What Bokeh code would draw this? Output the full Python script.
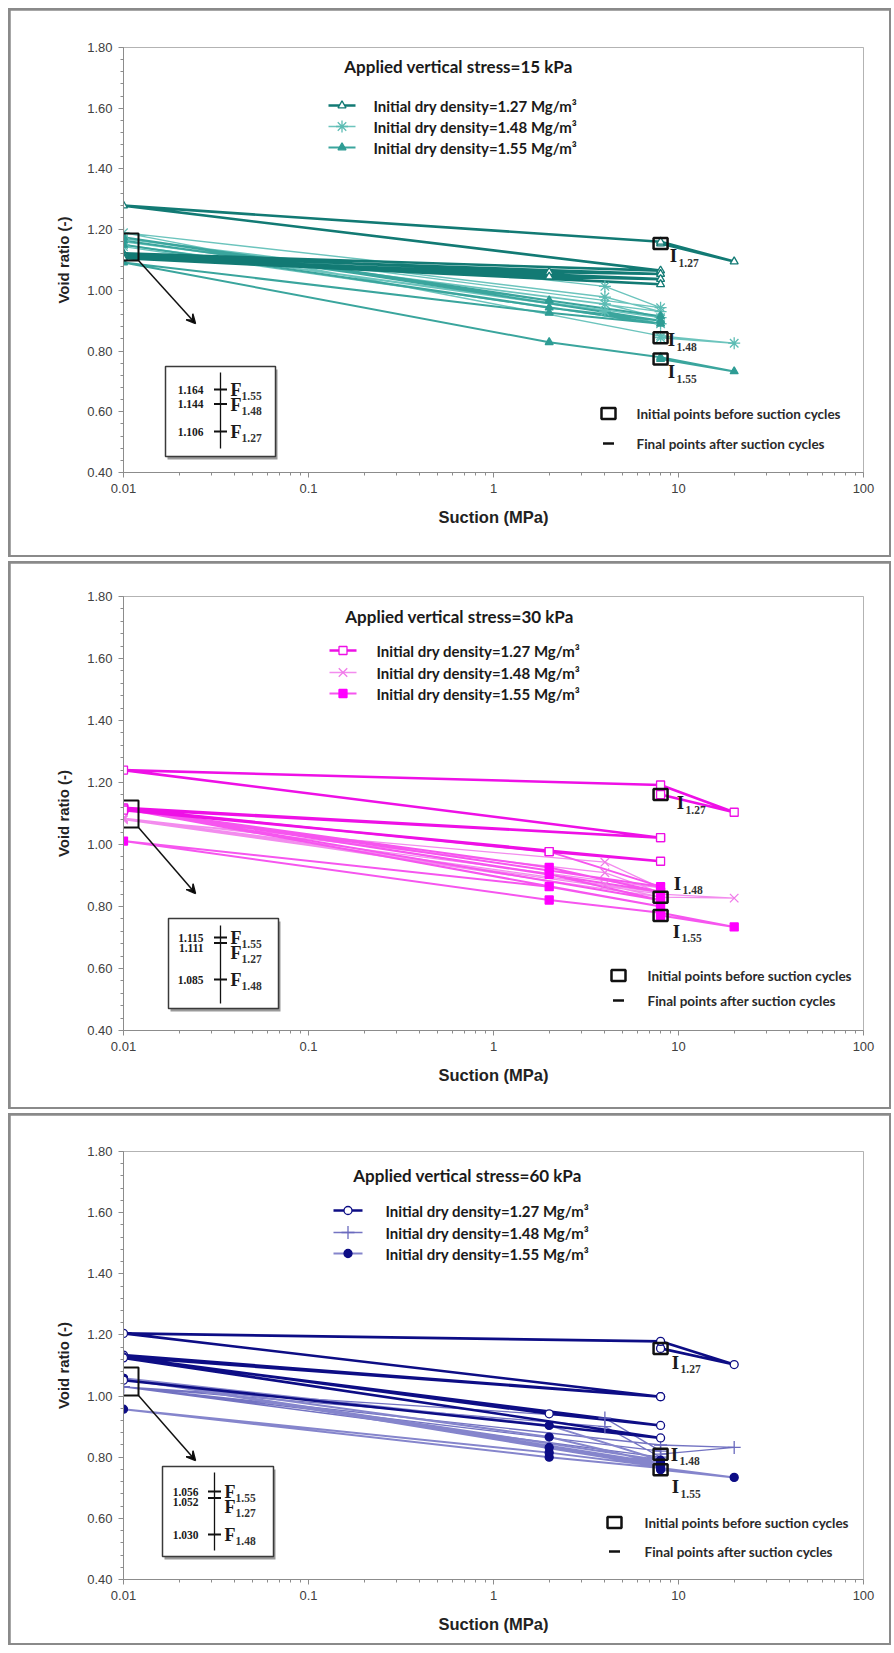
import math
from bokeh.plotting import figure
from bokeh.layouts import column
from bokeh.models import FixedTicker, NumeralTickFormatter, Arrow, VeeHead, Range1d
from bokeh.core.properties import value
from bokeh.embed import file_html
from bokeh.resources import INLINE

# ---------------- data ----------------
X_TICKS = [0.01, 0.1, 1, 10, 100]
X_TICK_LABELS = ["0.01", "0.1", "1", "10", "100"]
Y_TICKS = [0.40, 0.60, 0.80, 1.00, 1.20, 1.40, 1.60, 1.80]
STRESSES = ["15", "30", "60"]
DENSITIES = ["1.27", "1.48", "1.55"]

# 15 kPa
S15_D127_SUCTION = [8, 20, 8, 0.01, 8, 0.01, 2, 8, 0.01, 2, 8, 0.01, 8, 0.01]
S15_D127_VOID = [1.154, 1.095, 1.160, 1.279, 1.065, 1.122, 1.060, 1.054, 1.115, 1.045, 1.037, 1.110, 1.020, 1.106]
S15_D148_SUCTION = [8, 20, 8, 0.01, 4, 8, 0.01, 4, 8, 0.01, 4, 8, 0.01, 4, 8, 0.01]
S15_D148_VOID = [0.844, 0.826, 0.850, 1.190, 1.013, 0.943, 1.170, 0.978, 0.930, 1.160, 0.955, 0.910, 1.150, 0.931, 0.890, 1.144]
S15_D155_SUCTION = [8, 20, 8, 2, 0.01, 2, 8, 0.01, 2, 8, 0.01, 2, 8, 0.01]
S15_D155_VOID = [0.774, 0.733, 0.780, 0.829, 1.092, 0.926, 0.890, 1.150, 0.943, 0.900, 1.175, 0.967, 0.915, 1.164]

# 30 kPa
S30_D127_SUCTION = [8, 20, 8, 0.01, 8, 0.01, 8, 0.01, 2, 8, 0.01]
S30_D127_VOID = [1.161, 1.104, 1.192, 1.240, 1.022, 1.118, 1.022, 1.115, 0.977, 0.946, 1.111]
S30_D148_SUCTION = [8, 20, 8, 0.01, 4, 8, 0.01, 4, 8, 0.01, 4, 8, 0.01]
S30_D148_VOID = [0.830, 0.827, 0.840, 1.080, 0.943, 0.860, 1.085, 0.909, 0.845, 1.085, 0.870, 0.830, 1.085]
S30_D155_SUCTION = [8, 20, 8, 2, 0.01, 2, 8, 0.01, 2, 8, 0.01, 2, 8, 0.01, 2, 8, 0.01]
S30_D155_VOID = [0.771, 0.734, 0.780, 0.821, 1.011, 0.864, 0.800, 1.115, 0.904, 0.820, 1.115, 0.926, 0.847, 1.115, 0.977, 0.864, 1.115]

# 60 kPa
S60_D127_SUCTION = [8, 20, 8, 0.01, 8, 0.01, 8, 0.01, 2, 8, 0.01, 8, 0.01]
S60_D127_VOID = [1.156, 1.103, 1.179, 1.205, 0.998, 1.134, 0.998, 1.128, 0.942, 0.904, 1.125, 0.863, 1.052]
S60_D148_SUCTION = [8, 20, 8, 0.01, 4, 8, 0.01, 4, 8, 0.01]
S60_D148_VOID = [0.810, 0.832, 0.840, 1.030, 0.928, 0.820, 1.030, 0.900, 0.800, 1.030]
S60_D155_SUCTION = [8, 20, 8, 2, 0.01, 2, 8, 0.01, 2, 8, 0.01, 2, 8, 0.01, 2, 8, 0.01]
S60_D155_VOID = [0.759, 0.734, 0.765, 0.800, 0.957, 0.815, 0.770, 1.058, 0.832, 0.775, 1.058, 0.866, 0.780, 1.058, 0.904, 0.790, 1.056]

# final void ratios after suction cycles (order 1.27, 1.48, 1.55)
FINAL_15 = [1.106, 1.144, 1.164]
FINAL_30 = [1.111, 1.085, 1.115]
FINAL_60 = [1.052, 1.030, 1.056]

SERIES = {
    "15": [(S15_D127_SUCTION, S15_D127_VOID), (S15_D148_SUCTION, S15_D148_VOID), (S15_D155_SUCTION, S15_D155_VOID)],
    "30": [(S30_D127_SUCTION, S30_D127_VOID), (S30_D148_SUCTION, S30_D148_VOID), (S30_D155_SUCTION, S30_D155_VOID)],
    "60": [(S60_D127_SUCTION, S60_D127_VOID), (S60_D148_SUCTION, S60_D148_VOID), (S60_D155_SUCTION, S60_D155_VOID)],
}
FINALS = {"15": FINAL_15, "30": FINAL_30, "60": FINAL_60}

# ---------------- styles / layout ----------------
STYLE = {
    "15": dict(line=["#127a74", "#6cc4bd", "#3aa59d"], mark=["#127a74", "#5cbcb4", "#2e9c94"],
               marker=["triangle", "asterisk", "triangle"], hollow=[True, False, False],
               lw=[2.6, 1.4, 2.0], ms=[8, 12, 8]),
    "30": dict(line=["#ee10e6", "#f38cee", "#f655ef"], mark=["#ee10e6", "#f07ae9", "#ff00ff"],
               marker=["square", "x", "square"], hollow=[True, False, False],
               lw=[2.6, 1.3, 2.0], ms=[8, 12, 8]),
    "60": dict(line=["#0d0d85", "#7373c2", "#8585cc"], mark=["#0d0d85", "#6a6abe", "#0d0d85"],
               marker=["circle", "cross", "circle"], hollow=[True, False, False],
               lw=[2.6, 1.3, 2.0], ms=[8, 13, 8]),
}

FRAME_L, FRAME_R = 123, 863
PAGE_OFF = 8          # outer margin of the whole layout
FIG_LEFT = 10         # page x of each figure's left edge
FIG_W = 879
MARGIN = 2

PANELS = [
    dict(key="15", fig_top=10, height=545, ft=47, fb=472,
         title=(458, 66), rows=(105, 126, 147), lx=(328, 355), ltx=373,
         box=(109, 138, 233, 260), arrow=(138, 260, 195, 323),
         inset=(165, 275, 366, 456), ivx=220, ivy=(372, 448), iticks=(389, 431), inumx=203, ifx=230,
         ioff=[(13, 12), (11, 2), (11, 13)], leg2=(608, 636, 413, 443)),
    dict(key="30", fig_top=563, height=544, ft=596, fb=1030,
         title=(459, 616), rows=(650, 672, 693), lx=(329, 356), ltx=376,
         box=(109, 138, 800, 827), arrow=(138, 827, 195, 893),
         inset=(168, 278, 918, 1008), ivx=220, ivy=(925, 1003), iticks=(937, 979), inumx=203, ifx=230,
         ioff=[(20, 8), (17, -14), (16, 16)], leg2=(618, 647, 975, 1000)),
    dict(key="60", fig_top=1115, height=528, ft=1151, fb=1579,
         title=(467, 1175), rows=(1210, 1232, 1253), lx=(333, 362), ltx=385,
         box=(108, 138, 1367, 1395), arrow=(138, 1395, 195, 1460),
         inset=(162, 273, 1466, 1556), ivx=214, ivy=(1472, 1550), iticks=(1491, 1534), inumx=198, ifx=224,
         ioff=[(15, 14), (14, 0), (15, 17)], leg2=(614, 644, 1522, 1551)),
]

CAL = value("Lato")
SERIF = value("Liberation Serif")
INK = "#1a1a1a"


def make_panel(pan):
    key = pan["key"]
    st = STYLE[key]
    ft, fb = pan["ft"], pan["fb"]

    def X(px):
        return 10 ** (-2 + (px - FRAME_L) / (FRAME_R - FRAME_L) * 4)

    def Y(py):
        return 1.8 - (py - ft) / (fb - ft) * 1.4

    p = figure(width=FIG_W, height=pan["height"], x_axis_type="log",
               x_range=Range1d(0.01, 100), y_range=Range1d(0.4, 1.8),
               output_backend="svg", toolbar_location=None, title=None,
               min_border_left=FRAME_L - FIG_LEFT, min_border_right=FIG_LEFT + FIG_W - FRAME_R,
               min_border_top=ft - pan["fig_top"],
               min_border_bottom=pan["fig_top"] + pan["height"] - fb,
               x_axis_label="Suction (MPa)", y_axis_label="Void ratio (-)")
    p.margin = (MARGIN, MARGIN, MARGIN, MARGIN)
    p.background_fill_color = "white"
    p.border_fill_color = "white"
    p.outline_line_color = "#b3b3b3"
    p.xgrid.visible = False
    p.ygrid.visible = False

    minor_x = [k * 10 ** e for e in range(-2, 2) for k in range(2, 10)]
    p.xaxis.ticker = FixedTicker(ticks=X_TICKS, minor_ticks=minor_x)
    p.xaxis.major_label_overrides = {t: l for t, l in zip(X_TICKS, X_TICK_LABELS)}
    minor_y = [round(0.40 + 0.04 * i, 2) for i in range(36)]
    p.yaxis.ticker = FixedTicker(ticks=Y_TICKS, minor_ticks=minor_y)
    p.yaxis.formatter = NumeralTickFormatter(format="0.00")
    for ax in (p.xaxis[0], p.yaxis[0]):
        ax.axis_line_color = "#8c8c8c"
        ax.major_tick_line_color = "#8c8c8c"
        ax.minor_tick_line_color = "#8c8c8c"
        ax.major_tick_in = 0
        ax.major_tick_out = 5
        ax.minor_tick_in = 0
        ax.minor_tick_out = 3
        ax.major_label_text_font = "Liberation Sans"
        ax.major_label_text_font_size = "13px"
        ax.major_label_text_color = "#404040"
        ax.axis_label_text_font = "Liberation Sans"
        ax.axis_label_text_font_style = "bold"
        ax.axis_label_text_color = "#222222"
    p.xaxis.axis_label_text_font_size = "16.5px"
    p.yaxis.axis_label_text_font_size = "15px"
    p.xaxis.major_label_standoff = 6
    p.xaxis.axis_label_standoff = 12
    p.yaxis.major_label_standoff = 6
    p.yaxis.axis_label_standoff = 12

    # data series
    for i in (1, 2, 0):
        xs, ys = SERIES[key][i]
        p.line(xs, ys, line_color=st["line"][i], line_width=st["lw"][i])
    for i in (1, 2, 0):
        xs, ys = SERIES[key][i]
        fill = "white" if st["hollow"][i] else st["mark"][i]
        p.scatter(xs, ys, marker=st["marker"][i], size=st["ms"][i],
                  line_color=st["mark"][i], fill_color=fill, line_width=1.3)

    # initial points (rectangles) + labels
    ix = [SERIES[key][i][0][0] for i in range(3)]
    iy = [SERIES[key][i][1][0] for i in range(3)]
    p.rect(ix, iy, width=14, height=11, width_units="screen", height_units="screen",
           line_color="#111111", fill_alpha=0, line_width=2.5)
    for i in range(3):
        dx, dy = pan["ioff"][i]
        p.text([ix[i]], [iy[i]], text=["I"], x_offset=dx, y_offset=dy,
               text_font=SERIF, text_font_style="bold", text_font_size="19px",
               text_align="center", text_baseline="middle", text_color=INK)
        p.text([ix[i]], [iy[i]], text=[DENSITIES[i]], x_offset=dx + 5, y_offset=dy + 7,
               text_font=SERIF, text_font_style="bold", text_font_size="11.5px",
               text_align="left", text_baseline="middle", text_color="#333333")

    # zoom box and arrow
    bx0, bx1, by0, by1 = pan["box"]
    p.quad(left=[X(bx0)], right=[X(bx1)], top=[Y(by0)], bottom=[Y(by1)],
           fill_alpha=0, line_color="#111111", line_width=2)
    ax0, ay0, ax1, ay1 = pan["arrow"]
    p.add_layout(Arrow(end=VeeHead(size=9, line_color="#111111", line_width=1.5),
                       x_start=X(ax0), y_start=Y(ay0), x_end=X(ax1), y_end=Y(ay1),
                       line_color="#111111", line_width=1.5))

    # inset
    ix0, ix1, iy0, iy1 = pan["inset"]
    p.quad(left=[X(ix0 + 2)], right=[X(ix1 + 2)], top=[Y(iy0 + 3)], bottom=[Y(iy1 + 3)],
           fill_color="#9a9a9a", line_alpha=0)
    p.quad(left=[X(ix0)], right=[X(ix1)], top=[Y(iy0)], bottom=[Y(iy1)],
           fill_color="white", line_color="#3a3a3a", line_width=1.5)
    p.line([X(pan["ivx"])] * 2, [Y(pan["ivy"][0]), Y(pan["ivy"][1])], line_color="#111111", line_width=1.3)
    fv = FINALS[key]
    fmax, fmin = max(fv), min(fv)
    t0, t1 = pan["iticks"]
    order = sorted(range(3), key=lambda k: -fv[k])
    last_num, last_f = -1e9, -1e9
    for k in order:
        ty = t0 + (fmax - fv[k]) / (fmax - fmin) * (t1 - t0)
        p.scatter([X(pan["ivx"])], [Y(ty)], marker="dash", size=13, line_color="#111111", line_width=2)
        ny = max(ty, last_num + 10)
        last_num = ny
        fy = max(ty, last_f + 15)
        last_f = fy
        p.text([X(pan["inumx"])], [Y(ny)], text=[f"{fv[k]:.3f}"],
               text_font=SERIF, text_font_style="bold", text_font_size="11.5px", text_align="right",
               text_baseline="middle", text_color=INK)
        p.text([X(pan["ifx"])], [Y(fy)], text=["F"], text_font=SERIF, text_font_style="bold",
               text_font_size="18px", text_align="left", text_baseline="middle", text_color=INK)
        p.text([X(pan["ifx"] + 11)], [Y(fy + 6)], text=[DENSITIES[k]], text_font=SERIF,
               text_font_style="bold", text_font_size="11.5px", text_align="left",
               text_baseline="middle", text_color="#333333")

    # title and series legend
    tx, ty = pan["title"]
    p.text([X(tx)], [Y(ty)], text=[f"Applied vertical stress={key} kPa"], text_font=CAL,
           text_font_style="bold", text_font_size="17px", text_align="center",
           text_baseline="middle", text_color=INK)
    lx0, lx1 = pan["lx"]
    for i, ry in enumerate(pan["rows"]):
        p.line([X(lx0), X(lx1)], [Y(ry), Y(ry)], line_color=st["line"][i], line_width=st["lw"][i])
        fill = "white" if st["hollow"][i] else st["mark"][i]
        p.scatter([X((lx0 + lx1) / 2)], [Y(ry)], marker=st["marker"][i], size=st["ms"][i],
                  line_color=st["mark"][i], fill_color=fill, line_width=1.3)
        p.text([X(pan["ltx"])], [Y(ry)], text=[f"Initial dry density={DENSITIES[i]} Mg/m\u00b3"],
               text_font=CAL, text_font_style="bold", text_font_size="15px",
               text_align="left", text_baseline="middle", text_color=INK)

    # initial / final legend
    mx, mtx, r1, r2 = pan["leg2"]
    p.rect([X(mx)], [Y(r1)], width=14, height=11, width_units="screen", height_units="screen",
           line_color="#111111", fill_alpha=0, line_width=2.5)
    p.scatter([X(mx)], [Y(r2)], marker="dash", size=11, line_color="#111111", line_width=2.5)
    p.text([X(mtx)] * 2, [Y(r1), Y(r2)],
           text=["Initial points before suction cycles", "Final points after suction cycles"],
           text_font=CAL, text_font_style="bold", text_font_size="13.5px", text_align="left",
           text_baseline="middle", text_color="#2a2a2a")
    return p


boxes = [column(make_panel(pan), background="#8a8a8a") for pan in PANELS]
layout = column(*boxes, spacing=4, margin=(PAGE_OFF, 0, 0, PAGE_OFF))
open("out.html", "w").write(file_html(layout, INLINE))
